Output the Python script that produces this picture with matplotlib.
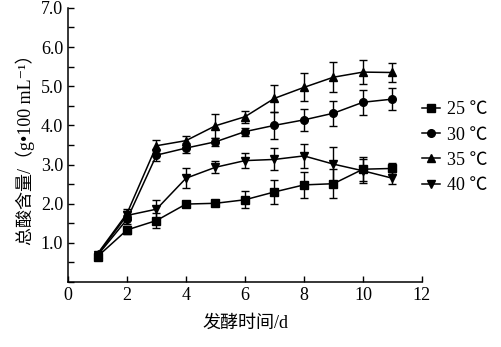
import numpy as np
import matplotlib
matplotlib.use('Agg')
import matplotlib.pyplot as plt
from matplotlib.ticker import MultipleLocator, FuncFormatter

plt.rcParams['font.family'] = ['Liberation Serif', 'Noto Sans CJK SC', 'DejaVu Sans']

# fermentation days
days = [1, 2, 3, 4, 5, 6, 7, 8, 9, 10, 11]

# total acid content (g/100 mL) and error bars
acid_25 = [0.65, 1.33, 1.57, 1.99, 2.01, 2.10, 2.30, 2.48, 2.51, 2.88, 2.90]
err_25 = [0.05, 0.10, 0.19, 0.08, 0.08, 0.22, 0.30, 0.34, 0.37, 0.30, 0.15]

acid_30 = [0.68, 1.60, 3.24, 3.42, 3.58, 3.84, 4.00, 4.14, 4.31, 4.59, 4.67]
err_30 = [0.05, 0.12, 0.15, 0.12, 0.10, 0.10, 0.34, 0.28, 0.32, 0.32, 0.28]

acid_35 = [0.72, 1.75, 3.48, 3.61, 3.99, 4.22, 4.69, 4.97, 5.23, 5.36, 5.35]
err_35 = [0.05, 0.12, 0.14, 0.12, 0.30, 0.15, 0.34, 0.36, 0.39, 0.30, 0.25]

acid_40 = [0.70, 1.70, 1.86, 2.65, 2.93, 3.10, 3.13, 3.22, 3.01, 2.84, 2.65]
err_40 = [0.05, 0.12, 0.24, 0.25, 0.15, 0.20, 0.28, 0.30, 0.45, 0.30, 0.15]

labels = ['25 ℃', '30 ℃', '35 ℃', '40 ℃']
markers = ['s', 'o', '^', 'v']

fig = plt.figure(figsize=(5.02, 3.47), dpi=100)
ax = fig.add_axes([0.1355, 0.1873, 0.705, 0.79])

series = [(acid_25, err_25), (acid_30, err_30), (acid_35, err_35), (acid_40, err_40)]
handles = []
for (vals, errs), lab, mk in zip(series, labels, markers):
    c = ax.errorbar(days, vals, yerr=errs, color='black', marker=mk, markersize=5.5,
                    linewidth=1.1, elinewidth=1.0, capsize=3, capthick=1.0, label=lab)
    handles.append(c.lines[0])

ax.set_xlim(0, 12)
ax.set_ylim(0, 7)
ax.xaxis.set_major_locator(MultipleLocator(2))
ax.yaxis.set_major_locator(MultipleLocator(0.5))
ax.yaxis.set_major_formatter(FuncFormatter(
    lambda v, p: '%.1f' % v if v >= 1 and abs(v - round(v)) < 1e-6 else ''))
ax.tick_params(direction='in', length=4, width=1, labelsize=13)
ax.spines['top'].set_visible(False)
ax.spines['right'].set_visible(False)
for s in ['left', 'bottom']:
    ax.spines[s].set_linewidth(1.1)

ax.set_xlabel('发酵时间/d', fontsize=13, labelpad=8)
ax.set_ylabel('总酸含量/（g•100 mL⁻¹）', fontsize=13, labelpad=4)

ax.legend(handles, labels, loc='center left', bbox_to_anchor=(1.0, 0.49), frameon=False,
          fontsize=13, handlelength=1.0, handletextpad=0.4, labelspacing=0.45,
          borderaxespad=0, borderpad=0)

fig.savefig('out.png', dpi=100)
